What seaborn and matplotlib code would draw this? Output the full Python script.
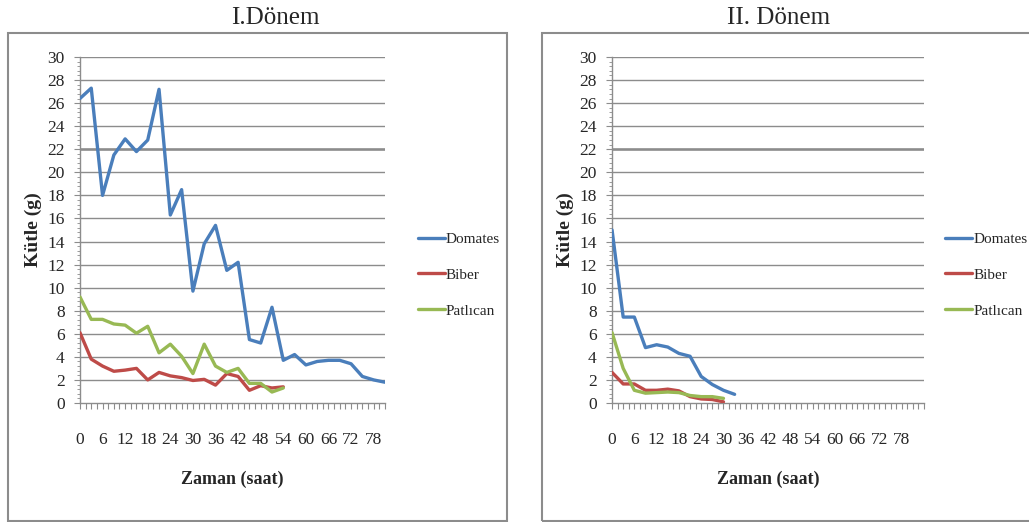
import numpy as np
import pandas as pd
import matplotlib
matplotlib.use("Agg")
import matplotlib.pyplot as plt
import matplotlib.ticker as mticker
from matplotlib.patches import Rectangle
import seaborn as sns

# ── Data (kütle, g) ───────────────────────────────────────────
saat_1_dom = list(range(0, 82, 3))
domates_1 = [26.4, 27.3, 18.0, 21.5, 22.9, 21.8, 22.8, 27.2, 16.3, 18.5, 9.7, 13.8,
             15.4, 11.5, 12.2, 5.5, 5.2, 8.3, 3.7, 4.2, 3.3, 3.6, 3.7, 3.7, 3.4,
             2.3, 2.0, 1.8]
saat_1 = list(range(0, 55, 3))
biber_1 = [6.1, 3.8, 3.2, 2.75, 2.85, 3.0, 2.0, 2.65, 2.35, 2.2, 1.95, 2.05,
           1.55, 2.55, 2.3, 1.1, 1.5, 1.3, 1.4]
patlican_1 = [9.2, 7.25, 7.25, 6.85, 6.75, 6.05, 6.65, 4.35, 5.1, 4.05, 2.55, 5.1,
              3.2, 2.65, 3.0, 1.7, 1.7, 0.95, 1.3]

saat_2_dom = list(range(0, 34, 3))
domates_2 = [15.0, 7.45, 7.45, 4.8, 5.05, 4.85, 4.3, 4.05, 2.3, 1.6, 1.1, 0.75]
saat_2 = list(range(0, 31, 3))
biber_2 = [2.65, 1.65, 1.65, 1.1, 1.1, 1.2, 1.05, 0.55, 0.35, 0.3, 0.1]
patlican_2 = [6.1, 3.0, 1.1, 0.85, 0.9, 0.95, 0.9, 0.65, 0.55, 0.55, 0.4]

SERIES = ['Domates', 'Biber', 'Patlıcan']
COLORS = {'Domates': '#4A7EBB', 'Biber': '#BE4B48', 'Patlıcan': '#98B954'}
GRID = '#8C8C8C'


def long_df(pairs):
    rows = []
    for name, (t, v) in zip(SERIES, pairs):
        rows += [{'saat': a, 'kutle': b, 'seri': name} for a, b in zip(t, v)]
    return pd.DataFrame(rows)


df1 = long_df([(saat_1_dom, domates_1), (saat_1, biber_1), (saat_1, patlican_1)])
df2 = long_df([(saat_2_dom, domates_2), (saat_2, biber_2), (saat_2, patlican_2)])

# ── Figure ────────────────────────────────────────────────────
sns.set_style("white")
plt.rcParams['font.family'] = ['Liberation Serif', 'DejaVu Serif']

fig = plt.figure(figsize=(10.29, 5.22), dpi=100)

# panel frames
fig.patches.append(Rectangle((0.0078, 0.002), 0.485, 0.934, transform=fig.transFigure,
                             fill=False, edgecolor='#8C8C8C', lw=1.5))
fig.patches.append(Rectangle((0.5267, 0.002), 0.49, 0.934, transform=fig.transFigure,
                             fill=False, edgecolor='#8C8C8C', lw=1.5))

fig.text(0.268, 0.965, 'I.Dönem', ha='center', va='center', fontsize=18)
fig.text(0.757, 0.965, 'II. Dönem', ha='center', va='center', fontsize=18)

panels = [
    (df1, [0.0777, 0.228, 0.2964, 0.6628], 81, 1.082),
    (df2, [0.5948, 0.228, 0.3032, 0.6628], 84, 1.042),
]

for data, rect, xmax, leg_x in panels:
    ax = fig.add_axes(rect)
    for y in range(2, 31, 2):
        ax.axhline(y, color=GRID, lw=1.9 if y == 22 else 1.0, zorder=1)
    for name in SERIES:
        sub = data[data['seri'] == name]
        sns.lineplot(data=sub, x='saat', y='kutle', color=COLORS[name], lw=2.4,
                     label=name, ax=ax, zorder=3, estimator=None, sort=False)

    ax.set_xlim(0, xmax)
    ax.set_ylim(0, 30)
    ax.set_xticks(np.arange(0, 79, 6))
    ax.xaxis.set_minor_locator(mticker.MultipleLocator(1.5))
    ax.set_yticks(np.arange(0, 31, 2))
    ax.yaxis.set_minor_locator(mticker.MultipleLocator(0.4))
    ax.tick_params(axis='x', which='both', direction='out', length=4, color=GRID,
                   width=0.8, pad=17, labelsize=12.5)
    ax.tick_params(axis='y', which='major', direction='out', length=4, color=GRID,
                   width=0.8, pad=7, labelsize=12.5)
    ax.tick_params(axis='y', which='minor', direction='out', length=2.5,
                   color=GRID, width=0.6)
    ax.tick_params(bottom=True, left=True, which='both')

    for s in ['top', 'right']:
        ax.spines[s].set_visible(False)
    for s in ['left', 'bottom']:
        ax.spines[s].set_color(GRID)
        ax.spines[s].set_linewidth(1.0)

    ax.set_xlabel('Zaman (saat)', fontsize=13, fontweight='bold', labelpad=16)
    ax.set_ylabel('Kütle (g)', fontsize=14, fontweight='bold', labelpad=4)

    ax.legend(loc='center left', bbox_to_anchor=(leg_x, 0.37), frameon=False,
              fontsize=11, handlelength=1.8, handletextpad=0.05, labelspacing=1.45,
              borderpad=0)

fig.savefig('out.png', dpi=100, facecolor='white')
